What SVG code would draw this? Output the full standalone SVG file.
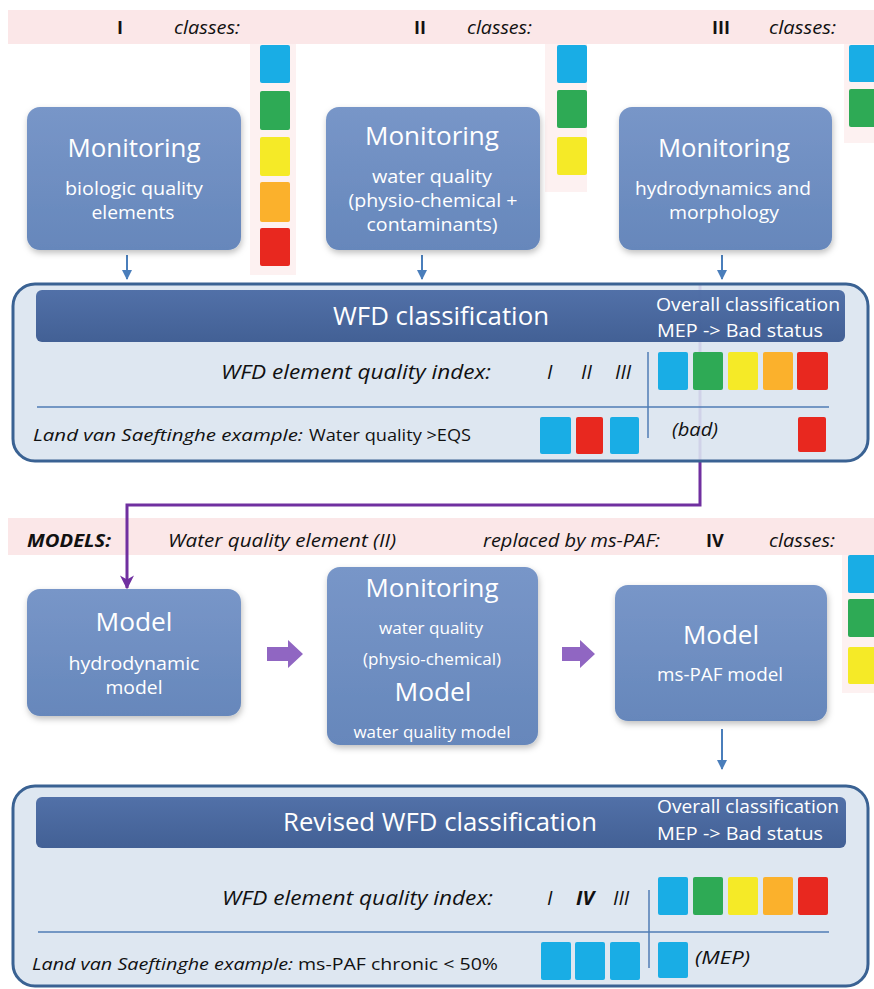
<svg xmlns="http://www.w3.org/2000/svg" width="874" height="989" viewBox="0 0 874 989">
<defs>
<linearGradient id="nodeGrad" x1="0" y1="0" x2="0" y2="1">
<stop offset="0" stop-color="#7896c8"/>
<stop offset="1" stop-color="#6687bb"/>
</linearGradient>
<linearGradient id="hdrGrad" x1="0" y1="0" x2="0" y2="1">
<stop offset="0" stop-color="#4a6aa4"/>
<stop offset="1" stop-color="#3a5990"/>
</linearGradient>
<filter id="shadow" x="-10%" y="-10%" width="125%" height="130%">
<feDropShadow dx="1" dy="3" stdDeviation="3" flood-color="#000" flood-opacity="0.25"/>
</filter>
<marker id="blueHead" viewBox="0 0 10 10" refX="9" refY="5" markerWidth="10" markerHeight="10" markerUnits="userSpaceOnUse" orient="auto">
<path d="M0,0 L10,5 L0,10 z" fill="#4a7ebb"/>
</marker>
<marker id="purpleHead" viewBox="0 0 10 10" refX="9" refY="5" markerWidth="14" markerHeight="14" markerUnits="userSpaceOnUse" orient="auto">
<path d="M0,0 L10,5 L0,10 L3,5 z" fill="#7030a0"/>
</marker>
</defs>
<style>
text{font-family:"Open Sans","Liberation Sans",sans-serif;}
.band{fill:#fbe7e8;}
.sqbg{fill:#fdf1f1;}
.b{fill:#19ade5;}
.g{fill:#2eaa55;}
.y{fill:#f5ea27;}
.o{fill:#fbb12c;}
.r{fill:#e8281f;}
.node{fill:url(#nodeGrad);filter:url(#shadow);}
.big{fill:#fff;font-size:26px;text-anchor:middle;}
.sub{fill:#fff;font-size:18px;text-anchor:middle;}
.sub16{fill:#fff;font-size:16px;text-anchor:middle;}
.lbl{fill:#111;font-size:18px;font-style:italic;}
.rom{fill:#111;font-size:18px;font-weight:bold;}
.box{fill:#dae4f0;fill-opacity:0.9;stroke:#3a6293;stroke-width:3;}
.hdr{fill:url(#hdrGrad);fill-opacity:0.95;}
.hdrT{fill:#fff;font-size:26px;text-anchor:middle;}
.hdrS{fill:#fff;font-size:18px;}
.idx{fill:#111;font-size:20px;font-style:italic;}
.ex{fill:#111;font-size:16px;}
.tag{fill:#111;font-size:18px;font-style:italic;}
.sep{stroke:#4f7cb4;stroke-width:1.5;fill:none;}
.blueArr{stroke:#4a7ebb;stroke-width:2;fill:none;}
.purple{stroke:#7030a0;stroke-width:3;fill:none;}
.blk{fill:#9066c2;}
</style>

<!-- header bands -->
<g id="band-top">
<rect class="band" x="8" y="10" width="866" height="34"/>
<text class="rom" x="117" y="34">I</text>
<text class="lbl" x="174" y="34" textLength="66" lengthAdjust="spacingAndGlyphs">classes:</text>
<text class="rom" x="414" y="34">II</text>
<text class="lbl" x="467" y="34" textLength="65" lengthAdjust="spacingAndGlyphs">classes:</text>
<text class="rom" x="712" y="34">III</text>
<text class="lbl" x="769" y="34" textLength="67" lengthAdjust="spacingAndGlyphs">classes:</text>
</g>

<g id="classes-I">
<rect class="sqbg" x="250" y="44" width="46" height="231"/>
<rect class="b" x="260" y="45" width="30" height="38" rx="2"/>
<rect class="g" x="260" y="91" width="30" height="39" rx="2"/>
<rect class="y" x="260" y="137" width="30" height="39" rx="2"/>
<rect class="o" x="260" y="182" width="30" height="40" rx="2"/>
<rect class="r" x="260" y="228" width="30" height="38" rx="2"/>
</g>
<g id="classes-II">
<rect class="sqbg" x="545" y="44" width="42" height="148"/>
<rect class="b" x="557" y="45" width="30" height="38" rx="2"/>
<rect class="g" x="557" y="90" width="30" height="38" rx="2"/>
<rect class="y" x="557" y="137" width="30" height="38" rx="2"/>
</g>
<g id="classes-III">
<rect class="sqbg" x="844" y="44" width="30" height="99"/>
<rect class="b" x="849" y="45" width="27" height="37" rx="2"/>
<rect class="g" x="849" y="89" width="27" height="38" rx="2"/>
</g>

<g id="band-models">
<rect class="band" x="8" y="518" width="866" height="37"/>
<text class="lbl" x="27" y="547" font-weight="bold" textLength="84" lengthAdjust="spacingAndGlyphs">MODELS:</text>
<text class="lbl" x="168" y="547" textLength="228" lengthAdjust="spacingAndGlyphs">Water quality element (II)</text>
<text class="lbl" x="483" y="547" textLength="177" lengthAdjust="spacingAndGlyphs">replaced by ms-PAF:</text>
<text class="rom" x="706" y="547">IV</text>
<text class="lbl" x="769" y="547" textLength="66" lengthAdjust="spacingAndGlyphs">classes:</text>
</g>
<g id="classes-IV">
<rect class="sqbg" x="842" y="555" width="32" height="138"/>
<rect class="b" x="848" y="555" width="28" height="38" rx="2"/>
<rect class="g" x="848" y="599" width="28" height="38" rx="2"/>
<rect class="y" x="848" y="647" width="28" height="37" rx="2"/>
</g>

<!-- connectors -->
<g id="connectors">
<line class="blueArr" x1="127" y1="255" x2="127" y2="279" marker-end="url(#blueHead)"/>
<line class="blueArr" x1="422" y1="255" x2="422" y2="279" marker-end="url(#blueHead)"/>
<line class="blueArr" x1="722" y1="255" x2="722" y2="279" marker-end="url(#blueHead)"/>
<path class="purple" d="M700,283 V505 H127 V588" marker-end="url(#purpleHead)"/>
<polygon class="blk" points="267,647 288,647 288,640 303,654 288,668 288,661 267,661"/>
<polygon class="blk" points="562,647 580,647 580,640 595,654 580,668 580,661 562,661"/>
<line class="blueArr" x1="722" y1="729" x2="722" y2="769" marker-end="url(#blueHead)"/>
</g>

<!-- monitoring nodes -->
<g id="mon-bio">
<rect class="node" x="27" y="107" width="214" height="143" rx="13"/>
<text class="big" x="134" y="157" textLength="133" lengthAdjust="spacingAndGlyphs">Monitoring</text>
<text class="sub" x="134" y="195" textLength="138" lengthAdjust="spacingAndGlyphs">biologic quality</text>
<text class="sub" x="133" y="219" textLength="83" lengthAdjust="spacingAndGlyphs">elements</text>
</g>
<g id="mon-wq">
<rect class="node" x="326" y="107" width="214" height="143" rx="13"/>
<text class="big" x="432" y="145" textLength="134" lengthAdjust="spacingAndGlyphs">Monitoring</text>
<text class="sub" x="432" y="183" textLength="120" lengthAdjust="spacingAndGlyphs">water quality</text>
<text class="sub" x="433" y="207" textLength="169" lengthAdjust="spacingAndGlyphs">(physio-chemical +</text>
<text class="sub" x="432" y="231" textLength="131" lengthAdjust="spacingAndGlyphs">contaminants)</text>
</g>
<g id="mon-hydro">
<rect class="node" x="619" y="107" width="213" height="143" rx="13"/>
<text class="big" x="724" y="157" textLength="132" lengthAdjust="spacingAndGlyphs">Monitoring</text>
<text class="sub" x="723" y="195" textLength="176" lengthAdjust="spacingAndGlyphs">hydrodynamics and</text>
<text class="sub" x="724" y="219" textLength="110" lengthAdjust="spacingAndGlyphs">morphology</text>
</g>

<!-- WFD classification -->
<g id="wfd">
<rect class="box" x="13" y="284" width="855" height="177" rx="22"/>
<rect class="hdr" x="36" y="290" width="809" height="52" rx="6"/>
<text class="hdrT" x="441" y="325" textLength="216" lengthAdjust="spacingAndGlyphs">WFD classification</text>
<text class="hdrS" x="656" y="311" textLength="184" lengthAdjust="spacingAndGlyphs">Overall classification</text>
<text class="hdrS" x="657" y="337" textLength="166" lengthAdjust="spacingAndGlyphs">MEP  -&gt; Bad status</text>
<text class="idx" x="221" y="379" textLength="270" lengthAdjust="spacingAndGlyphs">WFD element quality index:</text>
<text class="idx" x="547" y="379">I</text>
<text class="idx" x="581" y="379">II</text>
<text class="idx" x="615" y="379">III</text>
<line class="sep" x1="648" y1="352" x2="648" y2="438"/>
<line class="sep" x1="37" y1="407" x2="829" y2="407"/>
<rect class="b" x="658" y="352" width="30" height="38" rx="2"/>
<rect class="g" x="693" y="352" width="30" height="38" rx="2"/>
<rect class="y" x="728" y="352" width="30" height="38" rx="2"/>
<rect class="o" x="763" y="352" width="30" height="38" rx="2"/>
<rect class="r" x="797" y="352" width="31" height="38" rx="2"/>
<text class="ex" x="33" y="441" font-style="italic" textLength="270" lengthAdjust="spacingAndGlyphs">Land van Saeftinghe example:</text>
<text class="ex" x="309" y="441" textLength="162" lengthAdjust="spacingAndGlyphs">Water quality &gt;EQS</text>
<rect class="b" x="540" y="417" width="31" height="37" rx="2"/>
<rect class="r" x="576" y="417" width="27" height="37" rx="2"/>
<rect class="b" x="610" y="417" width="29" height="37" rx="2"/>
<text class="tag" x="672" y="436" textLength="46" lengthAdjust="spacingAndGlyphs">(bad)</text>
<rect class="r" x="798" y="417" width="28" height="35" rx="2"/>
</g>

<!-- model nodes -->
<g id="model-hydro">
<rect class="node" x="27" y="589" width="214" height="127" rx="13"/>
<text class="big" x="134" y="631" textLength="77" lengthAdjust="spacingAndGlyphs">Model</text>
<text class="sub" x="134" y="670" textLength="131" lengthAdjust="spacingAndGlyphs">hydrodynamic</text>
<text class="sub" x="134" y="694" textLength="57" lengthAdjust="spacingAndGlyphs">model</text>
</g>
<g id="model-wq">
<rect class="node" x="327" y="567" width="211" height="178" rx="13"/>
<text class="big" x="432" y="597" textLength="133" lengthAdjust="spacingAndGlyphs">Monitoring</text>
<text class="sub16" x="431" y="634" textLength="104" lengthAdjust="spacingAndGlyphs">water quality</text>
<text class="sub16" x="432" y="665" textLength="138" lengthAdjust="spacingAndGlyphs">(physio-chemical)</text>
<text class="big" x="433" y="701" textLength="77" lengthAdjust="spacingAndGlyphs">Model</text>
<text class="sub16" x="432" y="738" textLength="157" lengthAdjust="spacingAndGlyphs">water quality model</text>
</g>
<g id="model-mspaf">
<rect class="node" x="615" y="585" width="212" height="136" rx="13"/>
<text class="big" x="721" y="644" textLength="76" lengthAdjust="spacingAndGlyphs">Model</text>
<text class="sub" x="720" y="681" textLength="126" lengthAdjust="spacingAndGlyphs">ms-PAF model</text>
</g>

<!-- Revised WFD classification -->
<g id="revised-wfd">
<rect class="box" x="13" y="786" width="855" height="200" rx="22"/>
<rect class="hdr" x="36" y="797" width="810" height="51" rx="6"/>
<text class="hdrT" x="440" y="831" textLength="314" lengthAdjust="spacingAndGlyphs">Revised WFD classification</text>
<text class="hdrS" x="657" y="813" textLength="182" lengthAdjust="spacingAndGlyphs">Overall classification</text>
<text class="hdrS" x="657" y="840" textLength="166" lengthAdjust="spacingAndGlyphs">MEP  -&gt; Bad status</text>
<text class="idx" x="222" y="905" textLength="271" lengthAdjust="spacingAndGlyphs">WFD element quality index:</text>
<text class="idx" x="547" y="905">I</text>
<text class="idx" x="576" y="905" font-weight="bold">IV</text>
<text class="idx" x="613" y="905">III</text>
<line class="sep" x1="649" y1="890" x2="649" y2="968"/>
<line class="sep" x1="38" y1="932" x2="829" y2="932"/>
<rect class="b" x="658" y="877" width="30" height="38" rx="2"/>
<rect class="g" x="693" y="877" width="30" height="38" rx="2"/>
<rect class="y" x="728" y="877" width="30" height="38" rx="2"/>
<rect class="o" x="763" y="877" width="30" height="38" rx="2"/>
<rect class="r" x="798" y="877" width="30" height="38" rx="2"/>
<text class="ex" x="32" y="970" font-style="italic" textLength="261" lengthAdjust="spacingAndGlyphs">Land van Saeftinghe example:</text>
<text class="ex" x="298" y="970" textLength="200" lengthAdjust="spacingAndGlyphs">ms-PAF chronic &lt; 50%</text>
<rect class="b" x="541" y="942" width="30" height="38" rx="2"/>
<rect class="b" x="575" y="942" width="30" height="38" rx="2"/>
<rect class="b" x="610" y="942" width="30" height="38" rx="2"/>
<rect class="b" x="658" y="942" width="30" height="36" rx="2"/>
<text class="tag" x="695" y="964" textLength="55" lengthAdjust="spacingAndGlyphs">(MEP)</text>
</g>
</svg>
